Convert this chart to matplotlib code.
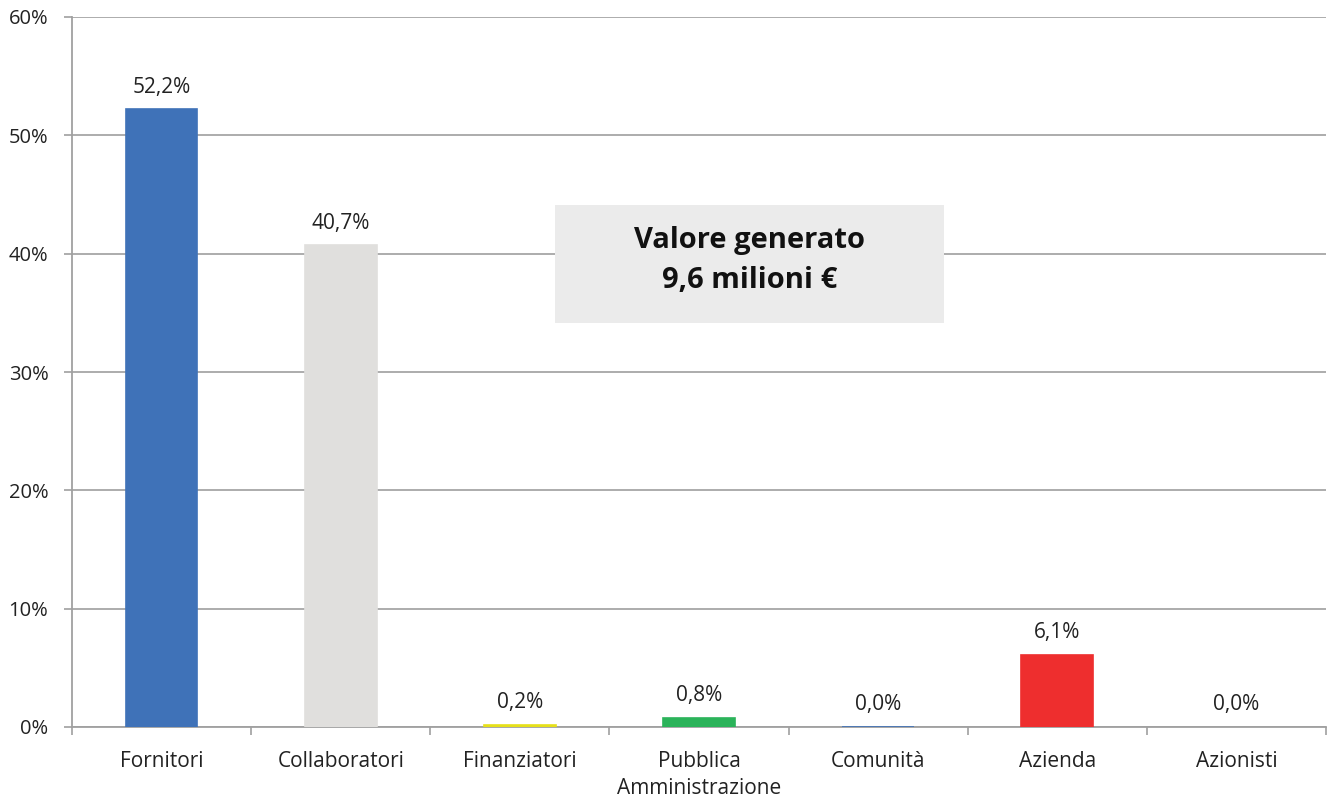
import matplotlib.pyplot as plt
from matplotlib.patches import Rectangle
from matplotlib.ticker import FixedLocator, FuncFormatter

plt.rcParams['font.family'] = ['Open Sans', 'DejaVu Sans']

categorie = ['Fornitori', 'Collaboratori', 'Finanziatori', 'Pubblica\nAmministrazione',
             'Comunità', 'Azienda', 'Azionisti']
valori = [52.2, 40.7, 0.2, 0.8, 0.04, 6.1, 0.0]
colori = ['#3F72B8', '#E0DFDD', '#E6E01A', '#2BB35A', '#3F72B8', '#EE2E2E', 'none']
titolo_box = 'Valore generato\n9,6 milioni €'

fig = plt.figure(figsize=(13.28, 8.02), dpi=100)
ax = fig.add_axes([72 / 1328, 1 - 727 / 802, 1254 / 1328, 710 / 802])

x = list(range(len(categorie)))
ax.bar(x, valori, width=0.4, color=colori, edgecolor=colori, linewidth=1.2, zorder=3)

for xi, v in zip(x, valori):
    ax.annotate(f'{v:.1f}%'.replace('.', ','), (xi, v), xytext=(0, 16),
                textcoords='offset points', ha='center', va='center',
                fontsize=15, color='#222222', zorder=5)

# riquadro valore generato
ax.add_patch(Rectangle((2.198, 34.1), 2.168, 10.0, facecolor='#EBEBEB',
                       edgecolor='none', zorder=4))
ax.text(3.282, 39.4, titolo_box, ha='center', va='center', fontsize=21,
        fontweight='bold', color='#111111', linespacing=1.5, zorder=5)

ax.set_xlim(-0.5, len(categorie) - 0.5)
ax.set_ylim(0, 60)
ax.set_yticks(range(0, 61, 10))
ax.yaxis.set_major_formatter(FuncFormatter(lambda v, p: f'{v:.0f}%'))
ax.set_xticks(x)
ax.set_xticklabels(categorie, fontsize=15, color='#222222', linespacing=1.4)
ax.xaxis.set_minor_locator(FixedLocator([i - 0.5 for i in range(len(categorie) + 1)]))

ax.tick_params(axis='x', which='major', length=0, pad=17)
ax.tick_params(axis='x', which='minor', length=6, color='#A0A0A0', width=1.2)
ax.tick_params(axis='y', length=6, color='#A0A0A0', width=1.2, labelsize=14.5,
               labelcolor='#222222', pad=11)

ax.grid(axis='y', color='#A6A6A6', linewidth=1.3, zorder=0)
for s in ['top', 'right']:
    ax.spines[s].set_visible(False)
for s in ['left', 'bottom']:
    ax.spines[s].set_color('#A0A0A0')
    ax.spines[s].set_linewidth(1.3)

fig.savefig('out.png', dpi=100)
